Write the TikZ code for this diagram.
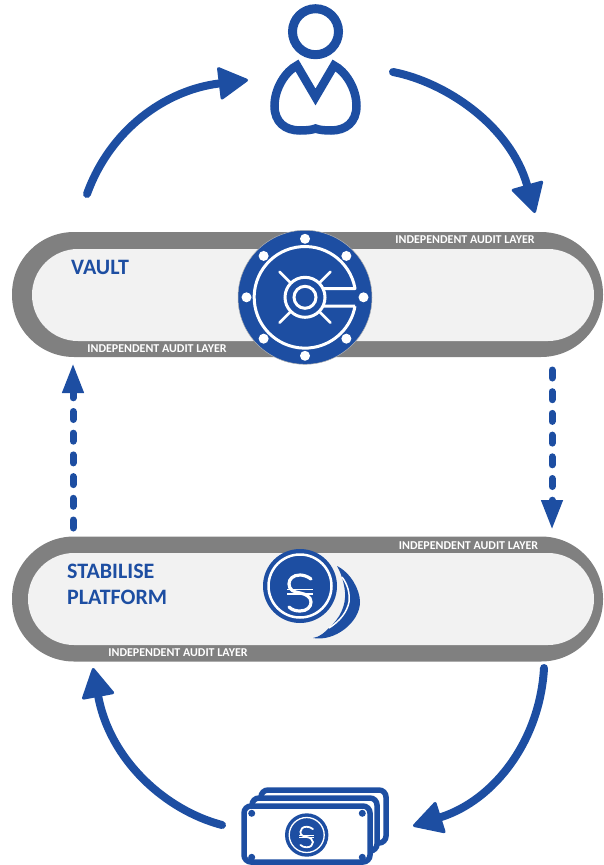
\documentclass[tikz,border=0pt]{standalone}
\usepackage{fontspec}
\setmainfont{Carlito}
\usepackage{xcolor}
\usetikzlibrary{arrows.meta}
\definecolor{coinblue}{HTML}{1D4EA2}
\definecolor{bargray}{HTML}{808080}
\definecolor{barfill}{HTML}{F2F2F2}
\tikzset{
    outerbar/.style={fill=bargray, rounded corners=62pt, minimum width=591pt, minimum height=125pt, inner sep=0pt},
    innerbar/.style={fill=barfill, rounded corners=46pt, minimum height=92pt, inner sep=0pt},
    auditlabel/.style={text=white, inner sep=0pt, font=\fontsize{12}{14}\selectfont\bfseries},
    boxlabel/.style={text=coinblue, inner sep=0pt, anchor=west, font=\fontsize{22}{26}\selectfont\bfseries},
    flow/.style={draw=coinblue, line width=8pt, line cap=round, -{Triangle[round,width=34pt,length=31pt,line width=3pt]}},
    dotflow/.style={draw=coinblue, line width=7pt, line cap=round, dash pattern=on 8pt off 13.7pt, -{Triangle[width=20pt,length=30pt]}},
    note/.style={draw=coinblue, fill=white, line width=5.5pt, rounded corners=7pt},
    pics/coinmark/.style={code={
        \draw [white, line width=#1, line cap=round]
            (11,-14) .. controls (7,-17) and (3,-18) .. (0,-18)
            .. controls (-7,-18) and (-11,-14) .. (-11,-9)
            .. controls (-11,-3) and (-6,-1) .. (0,0)
            .. controls (6,1) and (11,4) .. (11,9)
            .. controls (11,14) and (7,18) .. (0,18)
            .. controls (-4,18) and (-8,17) .. (-11,14);
        \draw [white, line width=1.1pt] (-13,-3.4) -- (13,-3.4);
        \draw [white, line width=1.1pt] (-13,1) -- (13,1);
    }}
}
\begin{document}
\begin{tikzpicture}[x=1pt, y=-1pt]
\useasboundingbox (0,0) rectangle (603,865);

% bars
\node (vaultouter) [outerbar] at (307.5,294.5) {};
\node (vaultinner) [innerbar, minimum width=562pt] at (313,295) {};
\node (stableouter) [outerbar] at (307.5,599) {};
\node (stableinner) [innerbar, minimum width=566pt] at (311,599) {};

\node (audita) [auditlabel] at (465,240) {INDEPENDENT AUDIT LAYER};
\node (auditb) [auditlabel] at (157,349) {INDEPENDENT AUDIT LAYER};
\node (auditc) [auditlabel] at (468.5,546) {INDEPENDENT AUDIT LAYER};
\node (auditd) [auditlabel] at (178,653) {INDEPENDENT AUDIT LAYER};

\node (vaultname) [boxlabel] at (71,267) {VAULT};
\node (stablename) [boxlabel] at (67,571) {STABILISE};
\node (platformname) [boxlabel] at (67,597) {PLATFORM};

% user
\draw [coinblue, line width=9pt] (315.5,31.7) circle (23);
\draw [coinblue, line width=8.5pt, line join=miter, miter limit=10]
    (315.5,97) -- (297,65.5)
    .. controls (286,71) and (274.5,88) .. (274.5,106)
    .. controls (274.5,122) and (285,130.5) .. (300,130.5)
    .. controls (306,130.5) and (312,130) .. (315.5,128.5)
    .. controls (319,130) and (325,130.5) .. (331,130.5)
    .. controls (346,130.5) and (356.5,122) .. (356.5,106)
    .. controls (356.5,88) and (345,71) .. (334,65.5) -- cycle;

% vault door
\fill [coinblue, draw=gray!60, line width=.5pt] (305,297.3) circle (67);
\foreach \a in {0,45,...,315}
    \fill [white] (305,297.3) ++(\a:58.5) circle (5);
\draw [white, line width=3pt, line join=round]
    (323,306) -- (355,306) (323,288.5) -- (355,288.5)
    arc [start angle=-10, end angle=-350, radius=50.8];
\draw [white, line width=3pt, fill=coinblue] (305,297.3) circle (20);
\draw [white, line width=3pt] (305,297.3) circle (11);
\foreach \a in {45,135,225,315}
    \draw [white, line width=2.6pt, line cap=round] (305,297.3) ++(\a:20) -- ++(\a:16);

% stablecoin
\fill [coinblue] (300,586) circle (37);
\draw [white, line width=2.5pt] (300,586) circle (31.5);
\pic at (300,593) {coinmark=3.2};
\fill [coinblue] (337,566) .. controls (351,573) and (360,590) .. (360,602)
    .. controls (360,622) and (335,642) .. (313,638)
    .. controls (320,637) and (325,632) .. (329,628)
    .. controls (340,618) and (346,606) .. (345,592)
    .. controls (344,582) and (341,573) .. (337,566) -- cycle;
\draw [white, line width=1.5pt] (342,577) .. controls (348,585) and (350,594) .. (349,602)
    .. controls (347,612) and (340,621) .. (329,628);

% banknotes
\node (notec) [note, minimum width=125pt, minimum height=53pt, inner sep=0pt] at (323.5,816.5) {};
\node (noteb) [note, minimum width=125pt, minimum height=53pt, inner sep=0pt] at (314.5,824.5) {};
\node (notea) [note, minimum width=126pt, minimum height=56pt, inner sep=0pt] at (307,834) {};
\foreach \x/\y in {251.7/813.3, 362.3/813.3, 251.7/857.3, 362.3/857.3}
    \fill [coinblue] (\x,\y) circle (3.5);
\fill [coinblue] (306.7,835) circle (21.7);
\draw [white, line width=1.3pt] (306.7,835) circle (17.5);
\pic [scale=.57] at (306.7,837) {coinmark=1.8};

% connectors
\coordinate (upstart) at (87,194);
\coordinate (upend) at (248,80);
\coordinate (downstart) at (393,72);
\coordinate (downend) at (535,213);
\coordinate (vaultdown) at (552,370);
\coordinate (platformtop) at (552,530);
\coordinate (platformup) at (73,528);
\coordinate (vaultbottom) at (73,363);
\coordinate (coinstart) at (544,668);
\coordinate (coinend) at (413,826);
\coordinate (notestart) at (222,825);
\coordinate (noteend) at (93,668);

\draw [flow] (upstart) .. controls (110,130) and (165,90) .. (upend);
\draw [flow] (downstart) .. controls (445,82) and (510,125) .. (downend);
\draw [dotflow] (vaultdown) -- (platformtop);
\draw [dotflow] (platformup) -- (vaultbottom);
\draw [flow] (coinstart) .. controls (540,740) and (495,800) .. (coinend);
\draw [flow] (notestart) .. controls (165,810) and (110,760) .. (noteend);
\end{tikzpicture}
\end{document}
